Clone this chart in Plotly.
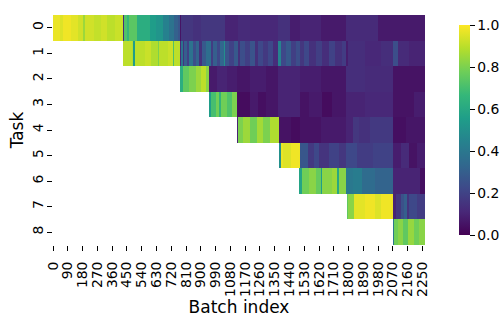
import numpy as np
import plotly.graph_objects as go

n_batches = 2266
tasks = list(range(9))
x_ticks = list(range(0, 2251, 90))

# piecewise levels per task row: (first batch of segment, value)
row0_breaks = [0, 40, 60, 110, 150, 183, 192, 250, 290, 330, 380, 424, 432, 450, 465, 509, 590, 630, 670, 705, 735, 760, 772, 777, 850, 900, 1046, 1127, 1200, 1369, 1441, 1502, 1634, 1786, 1979]
row0_levels = [0.97, 0.95, 0.98, 0.96, 0.93, 0.85, 0.93, 0.91, 0.93, 0.90, 0.92, 0.12, 0.72, 0.66, 0.74, 0.62, 0.55, 0.52, 0.44, 0.38, 0.31, 0.27, 0.05, 0.16, 0.14, 0.16, 0.10, 0.12, 0.11, 0.14, 0.08, 0.10, 0.07, 0.12, 0.07]

row1_breaks = [426, 480, 490, 497, 560, 600, 637, 645, 700, 730, 740, 772, 778, 790, 800, 815, 830, 850, 870, 890, 905, 930, 960, 975, 1000, 1020, 1040, 1048, 1075, 1100, 1125, 1140, 1170, 1200, 1228, 1250, 1280, 1310, 1340, 1370, 1390, 1420, 1450, 1480, 1502, 1530, 1560, 1600, 1640, 1680, 1720, 1760, 1786, 1800, 1900, 2000, 2070, 2100, 2170]
row1_levels = [0.90, 0.88, 0.55, 0.90, 0.92, 0.88, 0.80, 0.90, 0.92, 0.72, 0.90, 0.12, 0.38, 0.15, 0.30, 0.20, 0.38, 0.24, 0.32, 0.14, 0.28, 0.36, 0.18, 0.30, 0.22, 0.33, 0.50, 0.26, 0.20, 0.28, 0.14, 0.24, 0.19, 0.26, 0.14, 0.22, 0.17, 0.22, 0.13, 0.45, 0.22, 0.28, 0.19, 0.24, 0.16, 0.22, 0.14, 0.19, 0.13, 0.20, 0.14, 0.18, 0.08, 0.13, 0.11, 0.13, 0.24, 0.12, 0.10]

row2_breaks = [772, 790, 830, 870, 900, 935, 949, 1000, 1060, 1121, 1200, 1300, 1370, 1502, 1634, 1786, 1900, 2070]
row2_levels = [0.62, 0.75, 0.80, 0.85, 0.90, 0.82, 0.07, 0.10, 0.08, 0.06, 0.08, 0.06, 0.10, 0.08, 0.06, 0.13, 0.12, 0.05]

row3_breaks = [949, 965, 990, 1010, 1025, 1060, 1090, 1121, 1200, 1250, 1300, 1370, 1502, 1560, 1640, 1700, 1786, 1900, 2070, 2200]
row3_levels = [0.55, 0.70, 0.78, 0.65, 0.78, 0.72, 0.80, 0.03, 0.07, 0.04, 0.06, 0.10, 0.05, 0.07, 0.03, 0.06, 0.10, 0.11, 0.05, 0.08]

row4_breaks = [1121, 1127, 1160, 1200, 1240, 1280, 1320, 1377, 1450, 1502, 1634, 1786, 1830, 1867, 1930, 2070, 2150]
row4_levels = [0.10, 0.80, 0.85, 0.78, 0.86, 0.80, 0.88, 0.05, 0.03, 0.05, 0.07, 0.10, 0.16, 0.14, 0.17, 0.04, 0.06]

row5_breaks = [1377, 1387, 1400, 1450, 1502, 1552, 1590, 1620, 1680, 1740, 1786, 1850, 1950, 2070, 2120, 2170, 2220]
row5_levels = [0.50, 0.97, 0.95, 0.98, 0.27, 0.17, 0.22, 0.15, 0.20, 0.16, 0.22, 0.18, 0.20, 0.08, 0.12, 0.05, 0.08]

row6_breaks = [1498, 1501, 1515, 1560, 1600, 1630, 1638, 1700, 1730, 1740, 1786, 1830, 1880, 1960, 2070, 2233]
row6_levels = [0.10, 0.58, 0.78, 0.82, 0.76, 0.55, 0.82, 0.85, 0.60, 0.82, 0.40, 0.42, 0.35, 0.32, 0.10, 0.04]

row7_breaks = [1788, 1800, 1835, 1900, 1960, 2000, 2070, 2090, 2120, 2140, 2155, 2170, 2220]
row7_levels = [0.75, 0.82, 0.96, 0.98, 0.95, 0.98, 0.10, 0.16, 0.25, 0.30, 0.15, 0.22, 0.18]

row8_breaks = [2070, 2075, 2100, 2130, 2160, 2200, 2230]
row8_levels = [0.40, 0.78, 0.82, 0.75, 0.84, 0.78, 0.82]

rows = [
    (row0_breaks, row0_levels), (row1_breaks, row1_levels), (row2_breaks, row2_levels),
    (row3_breaks, row3_levels), (row4_breaks, row4_levels), (row5_breaks, row5_levels),
    (row6_breaks, row6_levels), (row7_breaks, row7_levels), (row8_breaks, row8_levels),
]

# fill the matrix; cells before a task starts stay empty (NaN)
z = np.full((len(tasks), n_batches), np.nan)
for r, (breaks, levels) in enumerate(rows):
    ends = breaks[1:] + [n_batches]
    for start, end, val in zip(breaks, ends, levels):
        z[r, start:end] = val

font = dict(family="DejaVu Sans", size=13.9, color="black")

fig = go.Figure(
    go.Heatmap(
        z=z,
        x=np.arange(n_batches),
        y=tasks,
        colorscale="Viridis",
        zmin=0,
        zmax=1,
        hoverongaps=False,
        colorbar=dict(
            x=1.0645, xanchor="left", y=0.5, yanchor="middle",
            len=1, lenmode="fraction", thickness=11, outlinewidth=0,
            ticks="outside", ticklen=5, tickcolor="black",
            tickvals=[0, 0.2, 0.4, 0.6, 0.8, 1.0], tickformat=".1f",
            tickfont=font,
        ),
    )
)

fig.update_layout(
    width=501, height=321,
    margin=dict(l=53, r=76, t=15, b=76, autoexpand=False),
    plot_bgcolor="white", paper_bgcolor="white",
    font=font,
)
fig.update_xaxes(
    range=[-0.5, n_batches - 0.5], tickvals=x_ticks, ticktext=[str(v) for v in x_ticks],
    tickangle=-90, ticks="outside", ticklen=5, tickcolor="black", ticklabelstandoff=5,
    showgrid=False, zeroline=False, showline=False, automargin=False,
    title=dict(text="Batch index", standoff=1),
)
fig.update_yaxes(
    range=[8.5, -0.5], tickvals=tasks, ticktext=[str(t) for t in tasks],
    tickangle=-90, ticks="outside", ticklen=5, tickcolor="black", ticklabelstandoff=-2,
    showgrid=False, zeroline=False, showline=False, automargin=False,
    title=dict(text="Task", standoff=2),
)

# the page body has a default 8px margin; drop it so the figure sits at the window corner
fig.write_html(
    "out.html",
    config={"displayModeBar": False},
    post_script="document.body.style.margin='0';",
)
